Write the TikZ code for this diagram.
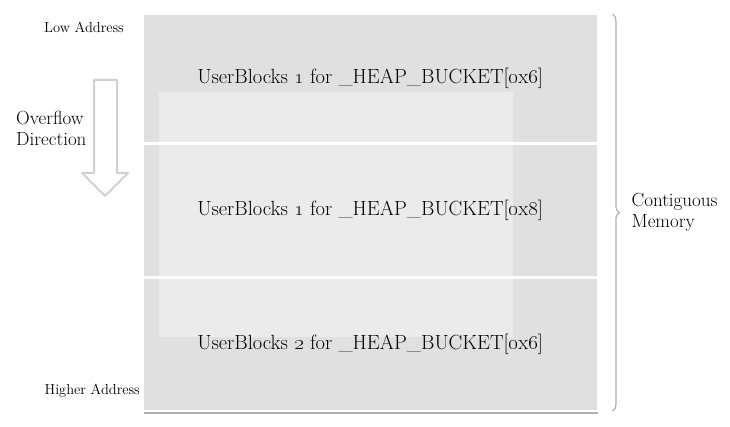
\documentclass[tikz,border=0pt]{standalone}
\usepackage{tikz}
\usetikzlibrary{calc,positioning,decorations.pathreplacing,backgrounds}
\definecolor{bandgray}{RGB}{224,224,224}
\definecolor{innergray}{RGB}{235,235,235}
\definecolor{edgegray}{RGB}{208,208,208}
\definecolor{bracegray}{RGB}{175,175,175}
\newcommand{\bandwidth}{454pt}
\newcommand{\osf}[1]{\oldstylenums{#1}}

\begin{document}
\begin{tikzpicture}[x=1pt,y=-1pt,
	band/.style={minimum width=\bandwidth, minimum height=#1, inner sep=0pt,
		font=\fontsize{20.5}{24}\selectfont},
	side/.style={inner sep=0pt, font=\fontsize{14.5}{17}\selectfont},
	sidebig/.style={inner sep=0pt, align=left, font=\fontsize{19}{21}\selectfont}]
	\useasboundingbox (0,0) rectangle (730,427);

	\node[band=129pt, anchor=north west] (top) at (143,14) {UserBlocks \osf{1} for \_HEAP\_BUCKET[\osf{0}x\osf{6}]};
	\node[band=134pt, below=0pt of top] (mid) {UserBlocks \osf{1} for \_HEAP\_BUCKET[\osf{0}x\osf{8}]};
	\node[band=133pt, below=0pt of mid] (bot) {UserBlocks \osf{2} for \_HEAP\_BUCKET[\osf{0}x\osf{6}]};

	\begin{pgfonlayer}{background}
	\fill[black!30] ($(top.north west)+(1,3)$) rectangle ($(bot.south east)+(1,3)$);
	\fill[bandgray] (top.north west) rectangle (bot.south east);
	\fill[innergray] ($(top.north west)+(16,78)$) rectangle ($(bot.north west)+(370,59)$);
	\draw[white, line width=3pt] (top.south west) -- (top.south east) (mid.south west) -- (mid.south east);
	\draw[white, line width=1.5pt] (top.north west) rectangle (bot.south east);
	\end{pgfonlayer}

	\node[side, anchor=east] (low) at (124,27) {Low Address};
	\node[side, anchor=east] (high) at (140,391) {Higher Address};
	\node[sidebig, anchor=west] (dir) at (16,128) {Overflow\\Direction};

	\draw[edgegray, line width=2pt, fill=white, line join=round]
		(94,80) -- (117,80) -- (117,173) -- (128,173) -- (105,196) -- (82,173) -- (94,173) -- cycle;

	\coordinate (tip) at ($(top.north east)!0.5!(bot.south east)+(22,0)$);
	\draw[bracegray, line width=1.2pt, decorate, decoration={brace, amplitude=7pt}]
		($(top.north east)+(15,0)$) -- ($(bot.south east)+(15,0)$);
	\node[sidebig, anchor=west, right=12pt of tip] (mem) {Contiguous\\Memory};
\end{tikzpicture}
\end{document}
